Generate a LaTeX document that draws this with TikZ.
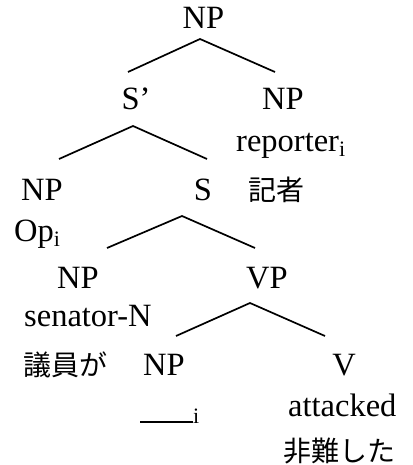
\documentclass[tikz,border=0pt]{standalone}
\usepackage{fontspec}
\setmainfont{Liberation Serif}
\newfontfamily\jp{Noto Sans CJK JP}
\newcommand{\subi}{\raisebox{-5pt}{\fontsize{22}{22}\selectfont i}}
\begin{document}
\begin{tikzpicture}[x=1pt,y=1pt,
  lab/.style={anchor=base,inner sep=0pt,font=\fontsize{32.5}{32.5}\selectfont},
  labw/.style={anchor=base west,inner sep=0pt,font=\fontsize{32.5}{32.5}\selectfont},
  jpw/.style={anchor=base west,inner sep=0pt,font=\jp\fontsize{28}{28}\selectfont},
  branch/.style={line width=1.7pt}]
\useasboundingbox (0,0) rectangle (412,-465);
% nodes
\node[lab] (np0) at (203.5,-29) {NP};
\node[lab] (sbar) at (136,-110) {S’};
\node[lab] (np1) at (283,-110) {NP};
\node[labw] (rep) at (236,-152) {reporter\subi};
\node[lab] (np2) at (42,-200) {NP};
\node[lab] (s) at (203,-200) {S};
\node[jpw] (kisha) at (248,-200) {記者};
\node[labw] (op) at (14,-241) {Op\subi};
\node[lab] (np3) at (78,-288) {NP};
\node[lab] (vp) at (267,-288) {VP};
\node[labw] (sen) at (24,-326) {senator-N};
\node[jpw] (giin) at (23,-375) {議員が};
\node[lab] (np4) at (164,-375) {NP};
\node[lab] (v) at (344,-375) {V};
\node[labw] (gap) at (140,-418) {\rule[-5pt]{53pt}{1.7pt}\subi};
\node[labw] (att) at (288,-416) {attacked};
\node[jpw] (hinan) at (283,-461) {非難した};
% branch points
\coordinate (a0) at (200,-39);
\coordinate (l0) at (128,-72);
\coordinate (r0) at (275,-72);
\coordinate (a1) at (133,-126);
\coordinate (l1) at (59,-159);
\coordinate (r1) at (207,-159);
\coordinate (a2) at (182,-216);
\coordinate (l2) at (107,-248);
\coordinate (r2) at (255,-248);
\coordinate (a3) at (250,-303);
\coordinate (l3) at (176,-336);
\coordinate (r3) at (325,-336);
\draw[branch] (l0) -- (a0) -- (r0);
\draw[branch] (l1) -- (a1) -- (r1);
\draw[branch] (l2) -- (a2) -- (r2);
\draw[branch] (l3) -- (a3) -- (r3);
\end{tikzpicture}
\end{document}
